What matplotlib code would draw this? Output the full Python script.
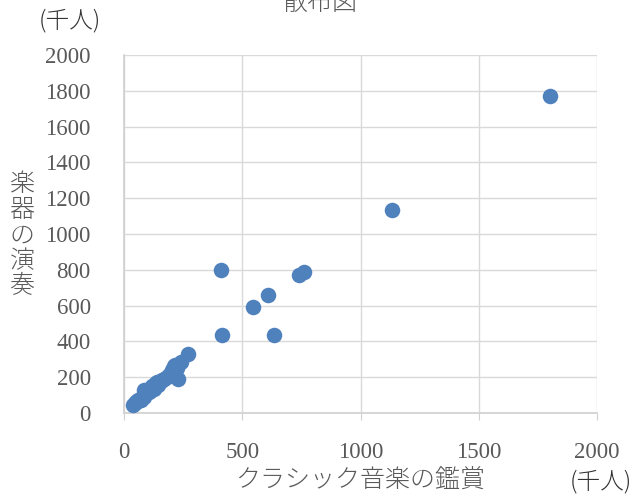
import matplotlib
matplotlib.use('Agg')
import matplotlib.pyplot as plt

W, H = 637, 495

# クラシック音楽の鑑賞 (千人)
classic = [1800, 1135, 760, 740, 610, 545, 635, 415, 410, 270, 230,
           40, 45, 50, 55, 60, 65, 70, 75, 80, 85, 90, 95, 100, 85, 105,
           110, 115, 120, 125, 130, 135, 140, 145, 150, 155, 160,
           190, 200, 205, 210, 216, 225, 240, 138, 170, 180]
# 楽器の演奏 (千人)
instrument = [1770, 1133, 790, 770, 660, 592, 433, 435, 800, 330, 188,
              45, 55, 60, 65, 70, 75, 70, 85, 95, 90, 105, 110, 120, 130, 115,
              125, 140, 150, 135, 160, 165, 170, 155, 175, 180, 185,
              215, 225, 240, 260, 268, 250, 285, 175, 190, 200]

ticks = [0, 500, 1000, 1500, 2000]

text_color = '#595959'
jp_font = ['Noto Sans CJK JP', 'DejaVu Sans']
num_font = 'Liberation Serif'

fig = plt.figure(figsize=(W / 100, H / 100), dpi=100)
ax = fig.add_axes([124 / W, 1 - 413 / H, (597 - 124) / W, (413 - 55) / H])

ax.scatter(classic, instrument, s=125, color='#4f81bd', zorder=3, linewidths=0)

ax.set_xlim(0, 2000)
ax.set_ylim(0, 2000)
ax.set_xticks(ticks)
ax.set_yticks(range(0, 2001, 200))
ax.grid(True, color='#d9d9d9', linewidth=1.0, zorder=0)
for side in ['top', 'right']:
    ax.spines[side].set_visible(False)
for side in ['left', 'bottom']:
    ax.spines[side].set_color('#d0d0d0')
    ax.spines[side].set_linewidth(1.2)
ax.tick_params(axis='x', length=5, color='#d0d0d0', pad=16, labelsize=16.5, labelcolor=text_color)
ax.tick_params(axis='y', length=0, pad=24, labelsize=16.5, labelcolor=text_color)
for lbl in ax.get_xticklabels() + ax.get_yticklabels():
    lbl.set_fontfamily(num_font)

# labels and units
fig.text(320 / W, 1 - 3 / H, '散布図', family=jp_font, fontsize=18, weight='light',
         color=text_color, ha='center', va='center')
fig.text(360 / W, 1 - 481 / H, 'クラシック音楽の鑑賞', family=jp_font, fontsize=18,
         weight='light', color=text_color, ha='center', va='center')
fig.text(22 / W, 1 - 235 / H, '\n'.join('楽器の演奏'), family=jp_font, fontsize=18,
         weight='light', color=text_color, ha='center', va='center', linespacing=0.95)
fig.text(70 / W, 1 - 21 / H, '(千人)', family=jp_font, fontsize=17, weight='light',
         color='#333333', ha='center', va='center')
fig.text(601 / W, 1 - 482 / H, '(千人)', family=jp_font, fontsize=17, weight='light',
         color='#333333', ha='center', va='center')

fig.savefig('out.png', dpi=100)
